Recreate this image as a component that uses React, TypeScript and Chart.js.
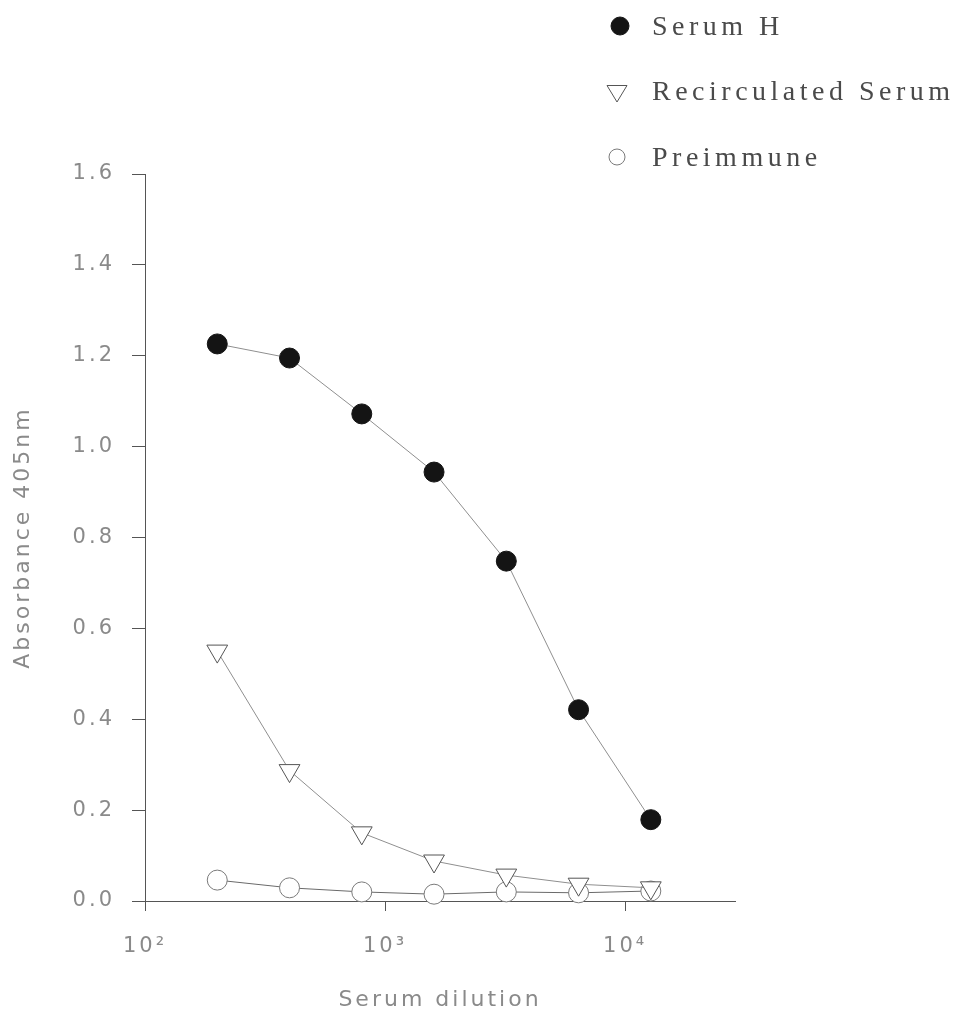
import React, { useEffect, useRef } from 'react';
import { Chart, registerables } from 'chart.js';

Chart.register(...registerables);

const dilutions = [200, 400, 800, 1600, 3200, 6400, 12800];
const serumH = [1.226, 1.195, 1.072, 0.944, 0.748, 0.421, 0.179];
const recirculated = [0.55, 0.287, 0.15, 0.088, 0.057, 0.037, 0.029];
const preimmune = [0.046, 0.029, 0.02, 0.015, 0.02, 0.018, 0.022];
const seriesLabels = ['Serum H', 'Recirculated Serum', 'Preimmune'];
const xTickValues = [100, 1000, 10000];
const xTickLabels = ['10²', '10³', '10⁴'];
const xTitle = 'Serum dilution';
const yTitle = 'Absorbance 405nm';

const AXIS = '#555555';
const TEXT = '#8a8a8a';

export default function App() {
  const ref = useRef<HTMLCanvasElement>(null);

  useEffect(() => {
    if (!ref.current) return;
    const pts = (ys: number[]) => dilutions.map((x, i) => ({ x, y: ys[i] }));

    const spacingPlugin = {
      id: 'spacing',
      beforeDraw(chart: any) {
        (chart.ctx as any).letterSpacing = '3px';
      },
    };

    const legendPlugin = {
      id: 'sideLegend',
      afterDraw(chart: any) {
        const ctx = chart.ctx as CanvasRenderingContext2D;
        const rows = [
          { mx: 620, my: 26, ty: 35 },
          { mx: 617, my: 91, ty: 100 },
          { mx: 617, my: 157, ty: 166 },
        ];
        ctx.save();
        chart.data.datasets.forEach((ds: any, i: number) => {
          const r = rows[i];
          ctx.beginPath();
          if (ds.pointStyle === 'triangle') {
            const s = 10;
            ctx.moveTo(r.mx - s, r.my - s * 0.55);
            ctx.lineTo(r.mx + s, r.my - s * 0.55);
            ctx.lineTo(r.mx, r.my + s * 1.1);
            ctx.closePath();
          } else {
            ctx.arc(r.mx, r.my, i === 0 ? 9 : 8, 0, Math.PI * 2);
          }
          ctx.fillStyle = ds.pointBackgroundColor;
          ctx.fill();
          ctx.lineWidth = 1;
          ctx.strokeStyle = ds.pointBorderColor;
          ctx.stroke();
          (ctx as any).letterSpacing = '4.5px';
          ctx.font = '28px "Liberation Serif"';
          ctx.fillStyle = '#4a4a4a';
          ctx.textBaseline = 'alphabetic';
          ctx.textAlign = 'left';
          ctx.fillText(ds.label, 652, r.ty);
        });
        ctx.restore();
      },
    };

    const chart = new Chart(ref.current, {
      type: 'line',
      data: {
        datasets: [
          {
            label: seriesLabels[0],
            data: pts(serumH),
            borderColor: '#8f8f8f',
            borderWidth: 1,
            pointStyle: 'circle',
            pointRadius: 10,
            pointBackgroundColor: '#141414',
            pointBorderColor: '#141414',
            pointBorderWidth: 1,
          },
          {
            label: seriesLabels[1],
            data: pts(recirculated),
            borderColor: '#8f8f8f',
            borderWidth: 1,
            pointStyle: 'triangle',
            pointRotation: 180,
            pointRadius: 12,
            pointBackgroundColor: '#ffffff',
            pointBorderColor: '#555555',
            pointBorderWidth: 1,
          },
          {
            label: seriesLabels[2],
            data: pts(preimmune),
            borderColor: '#6a6a6a',
            borderWidth: 1,
            pointStyle: 'circle',
            pointRadius: 10,
            pointBackgroundColor: '#ffffff',
            pointBorderColor: '#7a7a7a',
            pointBorderWidth: 1,
          },
        ],
      },
      options: {
        responsive: false,
        animation: false,
        devicePixelRatio: 1,
        clip: false as any,
        layout: { padding: { top: 174, right: 227, bottom: 0, left: 0 } },
        plugins: {
          legend: { display: false },
          tooltip: { enabled: false },
        },
        scales: {
          x: {
            type: 'logarithmic',
            min: 100,
            max: 28700,
            afterBuildTicks: (s: any) => {
              s.ticks = xTickValues.map((v) => ({ value: v }));
            },
            afterFit: (s: any) => {
              s.height = 124;
            },
            border: { color: AXIS, width: 1 },
            grid: { drawOnChartArea: false, drawTicks: true, tickLength: 10, color: AXIS },
            ticks: {
              autoSkip: false,
              maxRotation: 0,
              padding: 23,
              color: TEXT,
              font: { family: 'DejaVu Sans', size: 21 },
              callback: (v: any) => {
                const i = xTickValues.indexOf(Number(v));
                return i >= 0 ? xTickLabels[i] : '';
              },
            },
            title: {
              display: true,
              text: xTitle,
              color: TEXT,
              font: { family: 'DejaVu Sans', size: 22 },
              padding: { top: 0, bottom: 12 },
            },
          },
          y: {
            type: 'linear',
            min: 0,
            max: 1.6,
            afterFit: (s: any) => {
              s.width = 145;
            },
            border: { color: AXIS, width: 1 },
            grid: { drawOnChartArea: false, drawTicks: true, tickLength: 13, color: AXIS },
            ticks: {
              stepSize: 0.2,
              padding: 17,
              color: TEXT,
              font: { family: 'DejaVu Sans', size: 21 },
              callback: (v: any) => Number(v).toFixed(1),
            },
            title: {
              display: true,
              text: yTitle,
              color: TEXT,
              font: { family: 'DejaVu Sans', size: 22 },
              padding: { top: 10, bottom: 0 },
            },
          },
        },
      },
      plugins: [spacingPlugin, legendPlugin],
    });

    return () => chart.destroy();
  }, []);

  return (
    <div style={{ position: 'absolute', left: 0, top: 0, width: 962, height: 1025, background: '#ffffff' }}>
      <canvas ref={ref} width={962} height={1025} />
    </div>
  );
}
